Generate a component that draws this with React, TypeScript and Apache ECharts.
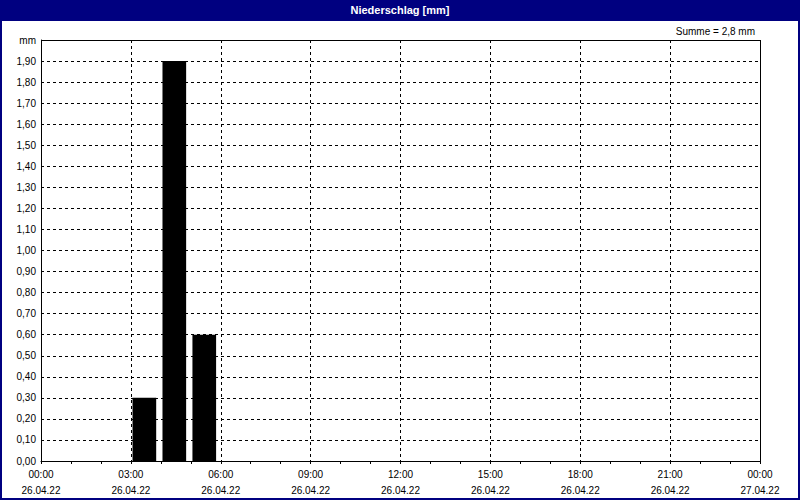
import React, { useEffect, useRef } from "react";
import * as echarts from "echarts";

const title = "Niederschlag [mm]";
const startHours = [3, 4, 5];
const endHours = [4, 5, 6];
const values = [0.3, 1.9, 0.6];
const dayLabel = "26.04.22";
const nextDayLabel = "27.04.22";
const yUnit = "mm";

const FONT = "Liberation Sans";

export default function App() {
  const ref = useRef<HTMLDivElement>(null);
  useEffect(() => {
    if (!ref.current) return;
    const chart = echarts.init(ref.current, null, { renderer: "svg" });
    const sum = values.reduce((a, b) => a + b, 0);
    const sumText = "Summe = " + (Math.round(sum * 10) / 10).toString().replace(".", ",") + " mm";
    const data = startHours.map((s, i) => [s, endHours[i], values[i]]);
    chart.setOption({
      animation: false,
      backgroundColor: "#ffffff",
      textStyle: { fontFamily: FONT },
      grid: { left: 41, right: 40, top: 40, bottom: 39, show: false },
      xAxis: {
        type: "value",
        min: 0,
        max: 24,
        interval: 3,
        axisLine: { show: true, lineStyle: { color: "#000", width: 1 } },
        axisTick: { show: true, length: 3, lineStyle: { color: "#000" } },
        minorTick: { show: true, splitNumber: 3, length: 3, lineStyle: { color: "#000" } },
        splitLine: { show: true, lineStyle: { color: "#000", type: [3, 3], width: 1 } },
        axisLabel: {
          color: "#000",
          fontSize: 10,
          fontFamily: FONT,
          lineHeight: 16,
          margin: 5,
          showMinLabel: true,
          showMaxLabel: true,
          formatter: (v: number) => {
            const h = Math.round(v) % 24;
            const hh = (h < 10 ? "0" : "") + h + ":00";
            return hh + "\n" + (v >= 24 ? nextDayLabel : dayLabel);
          },
        },
      },
      yAxis: {
        type: "value",
        min: 0,
        max: 2,
        interval: 0.1,
        axisLine: { show: true, lineStyle: { color: "#000", width: 1 } },
        axisTick: { show: false },
        splitLine: { show: true, lineStyle: { color: "#000", type: [3, 3], width: 1 } },
        axisLabel: {
          color: "#000",
          fontSize: 10,
          fontFamily: FONT,
          margin: 5,
          showMaxLabel: true,
          formatter: (v: number) => (v >= 2 - 1e-9 ? yUnit : v.toFixed(2).replace(".", ",")),
        },
      },
      series: [
        {
          type: "custom",
          data,
          encode: { x: [0, 1], y: 2 },
          renderItem: (params: any, api: any) => {
            const s = api.value(0);
            const e = api.value(1);
            const v = api.value(2);
            const p0 = api.coord([s, 0]);
            const p1 = api.coord([e, v]);
            const w = p1[0] - p0[0];
            return {
              type: "rect",
              shape: { x: p0[0] + w * 0.055, y: p1[1], width: w * 0.79, height: p0[1] - p1[1] },
              style: { fill: "#000" },
            };
          },
        },
      ],
      graphic: [
        {
          type: "rect",
          shape: { x: 0, y: 0, width: 800, height: 21 },
          style: { fill: "#000080" },
          z: 10,
        },
        {
          type: "text",
          x: 400,
          y: 10,
          style: {
            text: title,
            fill: "#fff",
            fontSize: 11,
            fontWeight: "bold",
            fontFamily: FONT,
            align: "center",
            verticalAlign: "middle",
          },
          z: 11,
        },
        {
          type: "text",
          x: 755,
          y: 31,
          style: {
            text: sumText,
            fill: "#000",
            fontSize: 10,
            fontFamily: FONT,
            align: "right",
            verticalAlign: "middle",
          },
        },
        {
          type: "line",
          shape: { x1: 41, y1: 40.5, x2: 760, y2: 40.5 },
          style: { stroke: "#000", lineWidth: 1 },
          z: 5,
        },
        {
          type: "line",
          shape: { x1: 760.5, y1: 40, x2: 760.5, y2: 461 },
          style: { stroke: "#000", lineWidth: 1 },
          z: 5,
        },
        {
          type: "rect",
          shape: { x: 1, y: 1, width: 798, height: 498 },
          style: { fill: "none", stroke: "#000080", lineWidth: 2 },
          z: 12,
        },
      ],
    });
    return () => chart.dispose();
  }, []);
  return (
    <div
      ref={ref}
      style={{ position: "fixed", left: 0, top: 0, width: 800, height: 500 }}
    />
  );
}
